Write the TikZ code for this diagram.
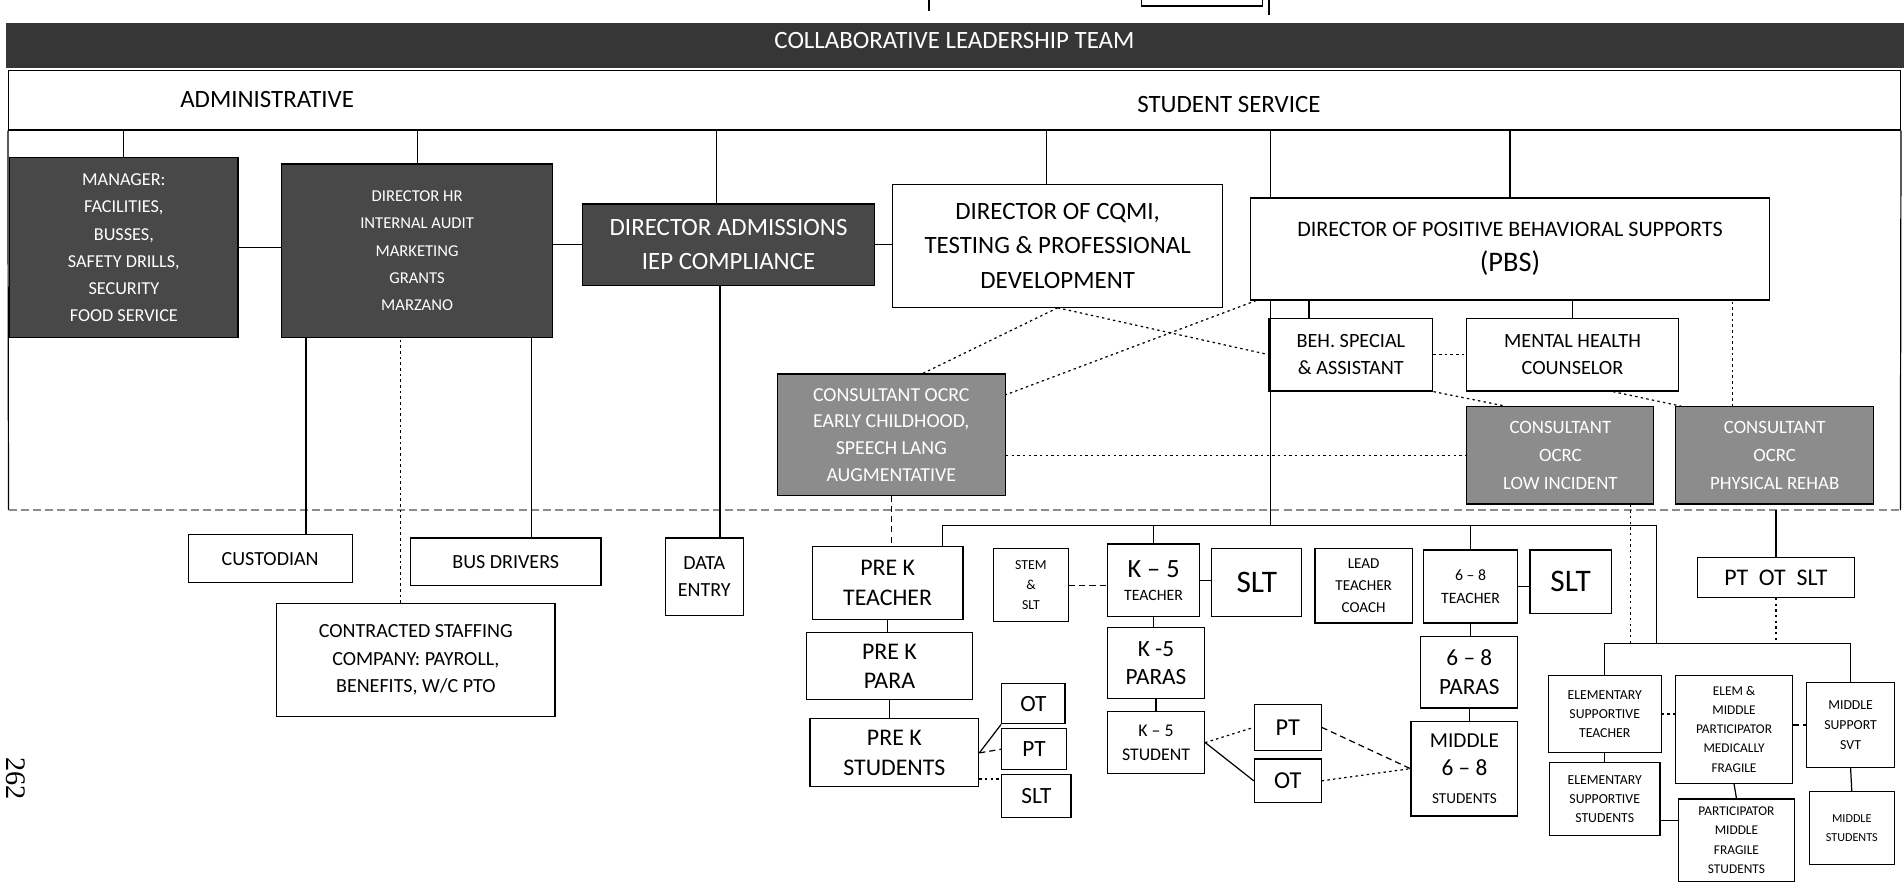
\documentclass[tikz,border=0pt]{standalone}
\usepackage{fontspec}
\setmainfont{Carlito}
\newfontfamily\pagefont{Liberation Serif}
\usetikzlibrary{positioning}

\definecolor{bandfill}{HTML}{363636}
\definecolor{boxdark}{HTML}{484848}
\definecolor{consfill}{HTML}{8C8C8C}
\newcommand{\fs}[2]{\fontsize{#1}{#2}\selectfont}

\begin{document}
\begin{tikzpicture}[
    x=0.6pt, y=-0.6pt, line width=0.6pt,
    box/.style={rectangle, draw, inner sep=0pt, align=center, fill=white},
    darkbox/.style={box, fill=boxdark, text=white},
    consbox/.style={box, fill=consfill, text=white},
    sz/.style 2 args={minimum width=#1*0.6pt, minimum height=#2*0.6pt},
    % dotted and dashed links between the boxes
    dotlink/.style={dash pattern=on 1.2pt off 1.6pt},
    dashlink/.style={dash pattern=on 3pt off 2pt},
    faint/.style={draw=black!45, dash pattern=on 4pt off 2pt}
  ]
    \useasboundingbox (0,0) rectangle (1568,726);

    %--- Cut-off box above the band ---
    \coordinate (top_a) at (765,0);
    \draw (top_a) -- ++(0,9);
    \draw (940,0) |- (1040,5) -- (1040,0);
    \draw (1045,0) -- (1045,12);

    %--- Band and section bar ---
    \node[box, draw=none, fill=bandfill, sz={1563}{37}] (clt) at (786.5,37.5) {};
    \node[text=white, font=\fs{12.3}{14}] (clt_lbl) at (786,33) {COLLABORATIVE LEADERSHIP TEAM};
    \node[box, sz={1558}{49}] (sect) at (786,82.5) {};
    \node[font=\fs{12.3}{14}] (admin_lbl) at (220,82) {ADMINISTRATIVE};
    \node[font=\fs{12.3}{14}] (student_lbl) at (1012,86) {STUDENT SERVICE};

    %--- Directors ---
    \node[darkbox, sz={188}{148}, font=\fs{9}{13.4}] (mgr) at (102,204) {MANAGER:\\FACILITIES,\\BUSSES,\\SAFETY DRILLS,\\SECURITY\\FOOD SERVICE};
    \node[darkbox, sz={223}{143}, font=\fs{8.2}{13.5}] (dir_hr) at (343.5,206.5) {DIRECTOR HR\\INTERNAL AUDIT\\MARKETING\\GRANTS\\MARZANO};
    \node[darkbox, sz={240}{67}, font=\fs{12.3}{17}] (dir_adm) at (600,201.5) {DIRECTOR ADMISSIONS\\IEP COMPLIANCE};
    \node[box, sz={272}{101}, font=\fs{12.3}{17}] (dir_cqmi) at (871,202.5) {DIRECTOR OF CQMI,\\TESTING \& PROFESSIONAL\\DEVELOPMENT};
    \node[box, sz={427}{84}, font=\fs{10.9}{17}] (dir_pbs) at (1243.5,205) {DIRECTOR OF POSITIVE BEHAVIORAL SUPPORTS\\{\fs{14}{17}(PBS)}};

    %--- PBS staff and consultants ---
    \node[box, sz={135}{60}, font=\fs{10}{13.2}] (beh) at (1112.5,292) {BEH. SPECIAL\\\& ASSISTANT};
    \node[box, sz={174}{60}, font=\fs{10}{13.2}] (mh) at (1295,292) {MENTAL HEALTH\\COUNSELOR};
    \node[consbox, sz={154}{80}, font=\fs{9.3}{14}] (cons_low) at (1285,375) {CONSULTANT\\OCRC\\LOW INCIDENT};
    \node[consbox, sz={163}{80}, font=\fs{9.3}{14}] (cons_rehab) at (1461.5,375) {CONSULTANT\\OCRC\\PHYSICAL REHAB};
    \node[consbox, sz={188}{100}, font=\fs{9.8}{13.2}] (cons_early) at (734,358) {CONSULTANT OCRC\\EARLY CHILDHOOD,\\SPEECH LANG\\AUGMENTATIVE};

    %--- Administrative staff ---
    \node[box, sz={135}{40}, font=\fs{9.9}{12}] (custodian) at (222.5,460) {CUSTODIAN};
    \node[box, sz={157}{39}, font=\fs{9.9}{12}] (bus_drivers) at (416.5,462.5) {BUS DRIVERS};
    \node[box, sz={229}{93}, font=\fs{9.9}{13.5}] (staffing) at (342.5,543.5) {CONTRACTED STAFFING\\COMPANY: PAYROLL,\\BENEFITS, W/C PTO};
    \node[box, sz={64}{64}, font=\fs{9.9}{13.2}] (data_entry) at (580,475) {DATA\\ENTRY};

    %--- Pre K ---
    \node[box, sz={124}{60}, font=\fs{11.8}{14.5}] (prek_teacher) at (731,480) {PRE K\\TEACHER};
    \node[box, sz={137}{55}, font=\fs{11.8}{14.5}] (prek_para) at (732.5,548.5) {PRE K\\PARA};
    \node[box, sz={139}{56}, font=\fs{11.8}{14.5}] (prek_students) at (736.5,620) {PRE K\\STUDENTS};
    \node[box, sz={52}{33}, font=\fs{11.5}{13}] (prek_ot) at (851,579.5) {OT};
    \node[box, sz={53}{34}, font=\fs{11.5}{13}] (prek_pt) at (851.5,617) {PT};
    \node[box, sz={57}{35}, font=\fs{11.5}{13}] (prek_slt) at (853.5,655.5) {SLT};

    %--- K-5 and 6-8 ---
    \node[box, sz={62}{60}, font=\fs{6.8}{10}] (stem) at (849,482) {STEM\\\&\\SLT};
    \node[box, sz={76}{60}, font=\fs{7.8}{11.5}] (k5_teacher) at (950,478) {{\fs{13}{14}K -- 5}\\TEACHER};
    \node[box, sz={74}{56}, font=\fs{15.5}{17}] (k5_slt) at (1035,480) {SLT};
    \node[box, sz={80}{61}, font=\fs{7.5}{11}] (lead_coach) at (1123,482.5) {LEAD\\TEACHER\\COACH};
    \node[box, sz={78}{60}, font=\fs{7.8}{11.5}] (g8_teacher) at (1211,483) {6 -- 8\\TEACHER};
    \node[box, sz={67}{52}, font=\fs{15.5}{17}] (g8_slt) at (1293.5,479) {SLT};
    \node[box, sz={80}{58}, font=\fs{11.5}{14}] (k5_paras) at (952,546) {K -5\\PARAS};
    \node[box, sz={80}{51}, font=\fs{8.8}{12}] (k5_student) at (952,611.5) {K -- 5\\STUDENT};
    \node[box, sz={55}{38}, font=\fs{12}{13}] (k5_pt) at (1060.5,599) {PT};
    \node[box, sz={55}{36}, font=\fs{12}{13}] (k5_ot) at (1060.5,643) {OT};
    \node[box, sz={80}{59}, font=\fs{11.5}{14}] (g8_paras) at (1210,553.5) {6 -- 8\\PARAS};
    \node[box, sz={88}{78}, font=\fs{7.5}{14}] (mid_students) at (1206,633) {{\fs{10.5}{14}MIDDLE}\\{\fs{11.5}{14}6 -- 8}\\STUDENTS};

    %--- Supportive programmes ---
    \node[box, sz={129}{33}, font=\fs{11.8}{13}] (pt_ot_slt) at (1462.5,475.5) {PT\ \ OT\ \ SLT};
    \node[box, sz={93}{64}, font=\fs{6.8}{9.5}] (elem_teacher) at (1321.5,588) {ELEMENTARY\\SUPPORTIVE\\TEACHER};
    \node[box, sz={91}{60}, font=\fs{6.8}{9.5}] (elem_students) at (1321.5,658) {ELEMENTARY\\SUPPORTIVE\\STUDENTS};
    \node[box, sz={96}{89}, font=\fs{6.6}{9.5}] (frag_teacher) at (1428,600.5) {ELEM \&\\MIDDLE\\PARTICIPATOR\\MEDICALLY\\FRAGILE};
    \node[box, sz={96}{68}, font=\fs{6.6}{9.5}] (frag_students) at (1430,692) {PARTICIPATOR\\MIDDLE\\FRAGILE\\STUDENTS};
    \node[box, sz={72}{70}, font=\fs{6.8}{10}] (mid_support) at (1524,597) {MIDDLE\\SUPPORT\\SVT};
    \node[box, sz={70}{60}, font=\fs{6}{9}] (mid_support_students) at (1525,682) {MIDDLE\\STUDENTS};

    %--- Page number ---
    \node[rotate=-90, inner sep=0pt, font=\pagefont\fs{14}{16}] (pagenum) at (13,641) {262};

    %--- Helper points ---
    \coordinate (spine) at (1046,433);
    \coordinate (bus_l) at (776,433);
    \coordinate (bus_r) at (1364,433);
    \coordinate (grp) at (1400,530);
    \coordinate (out_bl) at (7,420);
    \coordinate (out_br) at (1565,420);

    %--- Section bar down to directors, outline
    \draw (mgr.north) -- (mgr.north |- sect.south);
    \draw (dir_hr.north) -- (dir_hr.north |- sect.south);
    \draw ([xshift=-6pt]dir_adm.north) -- ([xshift=-6pt]dir_adm.north |- sect.south);
    \draw ([xshift=-5.4pt]dir_cqmi.north) -- ([xshift=-5.4pt]dir_cqmi.north |- sect.south);
    \draw (dir_pbs.north -| spine) -- (spine |- sect.south);
    \draw (dir_pbs.north) -- (dir_pbs.north |- sect.south);
    \draw (sect.south west) -- (out_bl);
    \draw (sect.south east) -- (out_br);
    \draw[faint] (out_bl) -- (out_br);

    %--- Side links between directors
    \draw (mgr.east) -- (mgr.east -| dir_hr.west);
    \draw (dir_adm.west -| dir_hr.east) -- (dir_adm.west);
    \draw (dir_adm.east) -- (dir_adm.east -| dir_cqmi.west);

    %--- Administrative staff
    \draw ([xshift=17.7pt]custodian.north) -- ([xshift=17.7pt]custodian.north |- dir_hr.south);
    \draw ([xshift=12.9pt]bus_drivers.north) -- ([xshift=12.9pt]bus_drivers.north |- dir_hr.south);
    \draw[dotlink] ([xshift=-7.5pt]staffing.north) -- ([xshift=-7.5pt]staffing.north |- dir_hr.south);
    \draw ([xshift=7.8pt]data_entry.north) -- ([xshift=7.8pt]data_entry.north |- dir_adm.south);

    %--- PBS and consultants
    \draw ([xshift=-20.7pt]beh.north) -- ([xshift=-20.7pt]beh.north |- dir_pbs.south);
    \draw (mh.north) -- (mh.north |- dir_pbs.south);
    \draw[dotlink] (beh.east) -- (mh.west);
    \draw[dotlink] ([xshift=-20.7pt]cons_rehab.north) -- ([xshift=-20.7pt]cons_rehab.north |- dir_pbs.south);
    \draw[dotlink] (beh.south east) -- ([xshift=-27pt]cons_low.north);
    \draw[dotlink] ([xshift=20pt]mh.south) -- ([xshift=3pt]cons_rehab.north west);
    \draw[dotlink] (dir_cqmi.south) -- ([xshift=15.6pt]cons_early.north);
    \draw[dotlink] (dir_cqmi.south) -- (beh.west);
    \draw[dotlink] ([xshift=3pt]dir_pbs.south west) -- ([yshift=19.8pt]cons_early.east);
    \draw[dotlink] (cons_early.east |- cons_low.west) -- (cons_low.west);
    \draw[dashlink] (cons_early.south) -- (cons_early.south |- prek_teacher.north);

    %--- Teacher bus
    \draw (prek_teacher.north -| bus_l) -- (bus_l) -- (bus_r) -- (bus_r |- grp);
    \draw (spine |- dir_pbs.south) -- (spine);
    \draw (k5_teacher.north) -- (k5_teacher.north |- bus_l);
    \draw (g8_teacher.north) -- (g8_teacher.north |- bus_l);

    %--- Pre K chain
    \draw (prek_teacher.south) -- (prek_teacher.south |- prek_para.north);
    \draw (prek_para.south) -- (prek_para.south |- prek_students.north);
    \draw (prek_students.east) -- (prek_ot.south west);
    \draw[dashlink] (prek_students.east) -- (prek_pt.west);
    \draw[dotlink] ([yshift=-2.4pt]prek_slt.north west -| prek_students.east) -- ([yshift=-2.4pt]prek_slt.north west);

    %--- K-5 and 6-8 chains
    \draw[dashlink] (stem.east) -- (stem.east -| k5_teacher.west);
    \draw (k5_teacher.east) -- (k5_teacher.east -| k5_slt.west);
    \draw (g8_teacher.east) -- (g8_teacher.east -| g8_slt.west);
    \draw (k5_teacher.south) -- (k5_teacher.south |- k5_paras.north);
    \draw (k5_paras.south) -- (k5_paras.south |- k5_student.north);
    \draw[dotlink] (k5_student.east) -- (k5_pt.west);
    \draw (k5_student.east) -- (k5_ot.west);
    \draw[dashlink] (k5_pt.east) -- (mid_students.west);
    \draw[dotlink] (k5_ot.east) -- (mid_students.west);
    \draw (g8_teacher.south) -- (g8_teacher.south |- g8_paras.north);
    \draw (g8_paras.south) -- (g8_paras.south |- mid_students.north);

    %--- Supportive group
    \draw (pt_ot_slt.north) -- (pt_ot_slt.north |- out_bl);
    \draw[dotlink] (pt_ot_slt.south) -- (pt_ot_slt.south |- grp);
    \draw[dotlink] ([xshift=34.8pt]cons_low.south) -- ([xshift=34.8pt]cons_low.south |- grp);
    \draw (elem_teacher.north) -- (elem_teacher.north |- grp) -- (mid_support.north |- grp) -- (mid_support.north);
    \draw (elem_teacher.south) -- (elem_students.north);
    \draw (frag_teacher.south) -- (frag_students.north);
    \draw (mid_support.south) -- (mid_support_students.north);
    \draw[dotlink] (elem_teacher.east) -- (elem_teacher.east -| frag_teacher.west);
    \draw[dashlink] (mid_support.west -| frag_teacher.east) -- (mid_support.west);
    \draw ([yshift=-10.8pt]elem_students.east) -- ([yshift=-10.8pt]elem_students.east -| frag_students.west);
\end{tikzpicture}
\end{document}
